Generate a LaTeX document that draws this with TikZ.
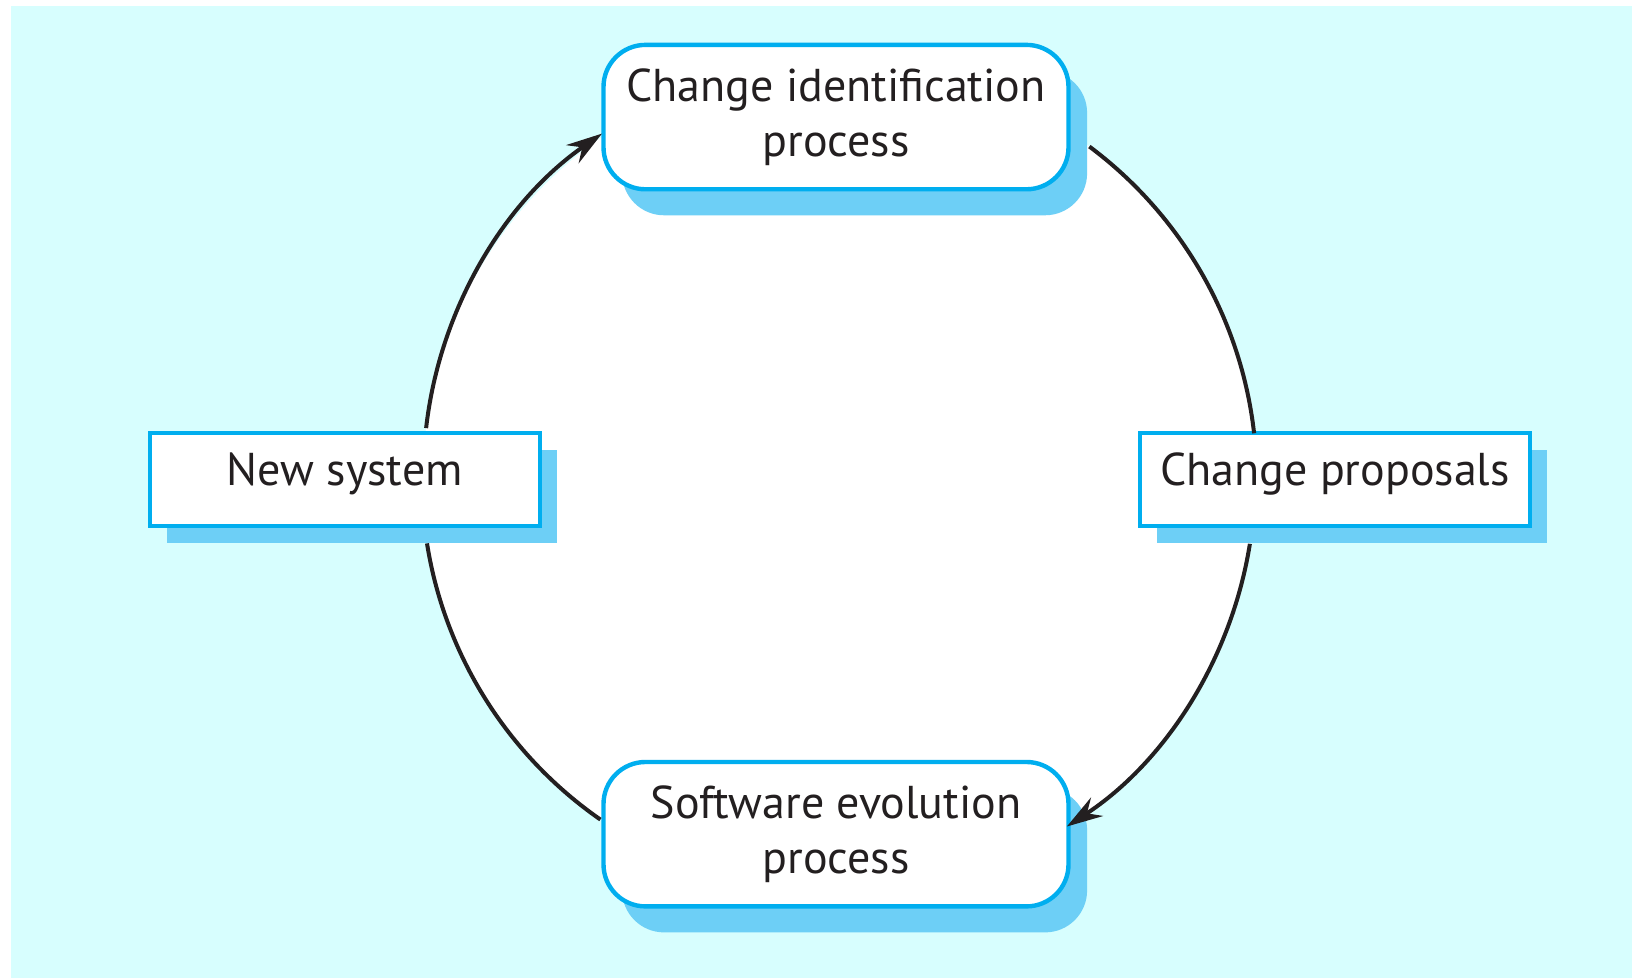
\documentclass[tikz,border=0pt]{standalone}
\usepackage{fontspec}
\setmainfont{PT Sans}
\usetikzlibrary{arrows.meta,shadows}
\definecolor{bgcyan}{RGB}{215,254,254}
\definecolor{boxblue}{RGB}{0,174,239}
\definecolor{shadowblue}{RGB}{109,207,246}
\definecolor{ink}{RGB}{35,31,32}
\begin{document}
\begin{tikzpicture}[x=0.5pt,y=0.5pt,
  box/.style={draw=boxblue, line width=2.2pt, fill=white, inner sep=0pt, outer sep=0pt,
    font=\fontsize{23}{27.5}\selectfont, text=ink},
  roundbox/.style={box, rounded corners=21pt, minimum width=232.5pt, minimum height=72.2pt,
    align=center, text height=45pt, text depth=5.4pt,
    drop shadow={shadow xshift=9.3pt, shadow yshift=-13pt, fill=shadowblue, opacity=1}},
  rectbox/.style={box, minimum width=195pt, minimum height=46.5pt,
    text height=17pt, text depth=11.3pt,
    drop shadow={shadow xshift=8.5pt, shadow yshift=-8.5pt, fill=shadowblue, opacity=1}},
  conn/.style={draw=ink, line width=2pt},
  arr/.style={conn, -{Stealth[length=18pt,width=11pt,inset=6pt]}}]
\useasboundingbox (0,0) rectangle (1632,978);
\fill[bgcyan] (11,0) rectangle (1632,972);
\node[circle, minimum size=416pt, inner sep=0pt, outer sep=0pt, fill=white] (ring) at (839,499.2) {};
\node[roundbox] (ident) at (836,860.9) {Change identification\\process};
\node[roundbox] (evol) at (836,143.8) {Software evolution\\process};
\node[rectbox] (newsys) at (344.8,498.2) {New system};
\node[rectbox] (props) at (1335,498.2) {Change proposals};
\draw[arr] (ring.173.5) arc[start angle=173.5, end angle=124.8, radius=208pt];
\draw[conn] (ring.53.3) arc[start angle=53.3, end angle=6.46, radius=208pt];
\draw[arr] (ring.-9.05) arc[start angle=-9.05, end angle=-56.8, radius=208pt];
\draw[conn] (ring.235.2) arc[start angle=235.2, end angle=189.05, radius=208pt];
\end{tikzpicture}
\end{document}
